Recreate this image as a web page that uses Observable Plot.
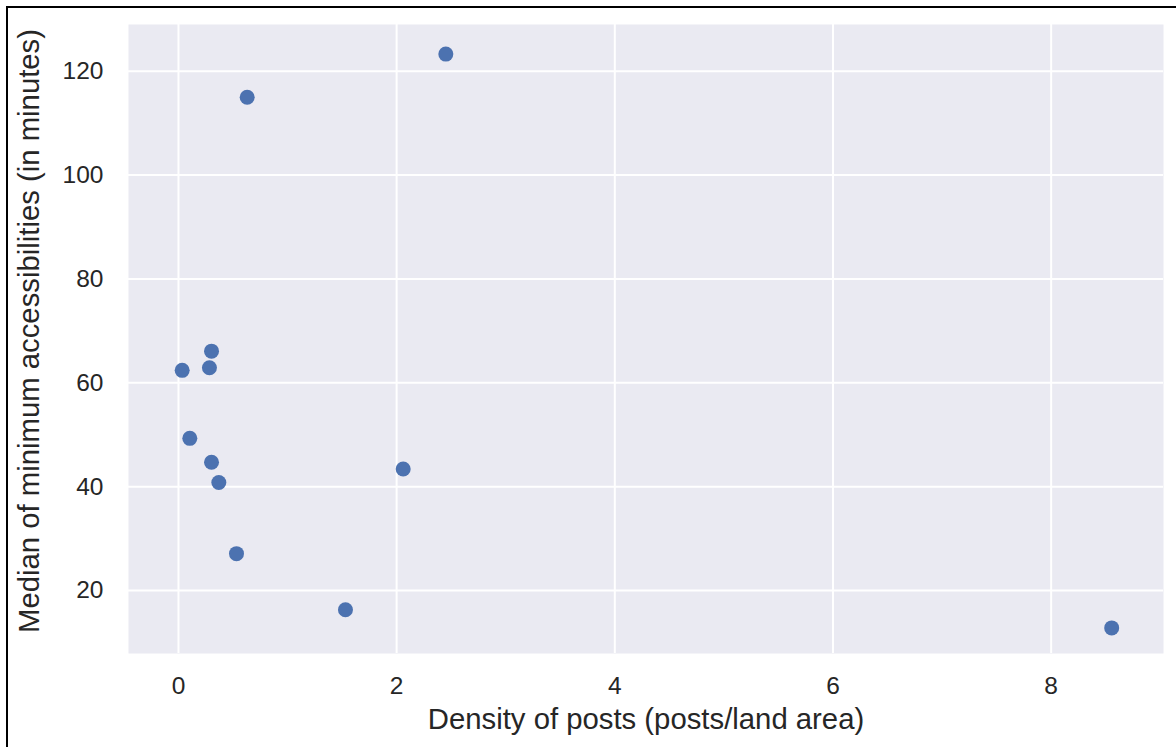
<!DOCTYPE html>
<html><head><meta charset="utf-8">
<script src="https://cdn.jsdelivr.net/npm/d3@7"></script>
<script src="https://cdn.jsdelivr.net/npm/@observablehq/plot@0.6"></script>
<style>
html,body{margin:0;padding:0;background:#fff;}
#wrap{position:relative;width:1176px;height:747px;overflow:hidden;}
#border{position:absolute;left:6px;top:6px;width:1200px;height:800px;border-top:2px solid #000;border-left:2px solid #000;pointer-events:none;}
</style></head><body><div id="wrap"><div id="chart"></div><div id="border"></div></div>
<script>
const density = [0.034, 0.303, 0.284, 0.104, 0.303, 0.370, 0.532, 0.630, 1.531, 2.060, 2.451, 8.555];
const medianMinutes = [62.4, 66.1, 62.9, 49.3, 44.7, 40.8, 27.1, 115.0, 16.3, 43.4, 123.3, 12.8];
const xTicks = [0, 2, 4, 6, 8];
const yTicks = [20, 40, 60, 80, 100, 120];
const xLabel = "Density of posts (posts/land area)";
const yLabel = "Median of minimum accessibilities (in minutes)";
const data = density.map((d, i) => ({density: d, minutes: medianMinutes[i]}));
const chart = Plot.plot({
  width: 1176, height: 747,
  marginLeft: 128, marginRight: 13, marginTop: 24, marginBottom: 94,
  style: {fontFamily: "'Liberation Sans', Arial, sans-serif", color: "#262626", background: "transparent"},
  x: {domain: [-0.458, 9.03]},
  y: {domain: [7.87, 129]},
  marks: [
    Plot.frame({fill: "#EAEAF2", stroke: "none"}),
    Plot.gridX(xTicks, {stroke: "#ffffff", strokeOpacity: 1, strokeWidth: 2}),
    Plot.gridY(yTicks, {stroke: "#ffffff", strokeOpacity: 1, strokeWidth: 2}),
    Plot.axisX(xTicks, {tickSize: 0, tickPadding: 23, fontSize: 24.5, label: null, fill: "#262626"}),
    Plot.axisY(yTicks, {tickSize: 0, tickPadding: 25, fontSize: 24.5, label: null, fill: "#262626"}),
    Plot.dot(data, {x: "density", y: "minutes", r: 7.5, fill: "#4C72B0", stroke: "none"}),
    Plot.text([xLabel], {frameAnchor: "bottom", dy: 66, fontSize: 29.3, text: d => d, textAnchor: "middle", lineAnchor: "middle", fill: "#262626"}),
    Plot.text([yLabel], {frameAnchor: "left", dx: -99, dy: -8, rotate: -90, fontSize: 29.3, text: d => d, textAnchor: "middle", lineAnchor: "middle", fill: "#262626"})
  ]
});
document.getElementById("chart").appendChild(chart);
</script>
</body></html>
